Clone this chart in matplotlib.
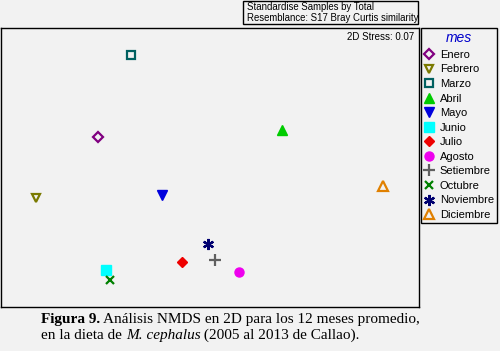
"""NMDS 2D ordination of monthly diet samples (Figura 9)."""
import matplotlib
matplotlib.use("Agg")
import matplotlib.pyplot as plt
from matplotlib.patches import Rectangle

plt.rcParams.update({
    "font.family": "sans-serif",
    "font.sans-serif": ["Liberation Sans", "DejaVu Sans"],
    "font.size": 7.5,
})

BG = "#f2f2f2"

meses = ["Enero", "Febrero", "Marzo", "Abril", "Mayo", "Junio", "Julio",
         "Agosto", "Setiembre", "Octubre", "Noviembre", "Diciembre"]
mds1 = [-1.12, -1.74, -0.79, 0.72, -0.48, -1.04, -0.28, 0.29, 0.05, -1.00, -0.02, 1.73]
mds2 = [0.33, -0.28, 1.15, 0.40, -0.25, -1.00, -0.92, -1.02, -0.90, -1.10, -0.74, -0.16]
marcadores = ["D", "v", "s", "^", "v", "s", "D", "o", "+", "x", (6, 2, 0), "^"]
colores = ["#800080", "#7a7a00", "#006060", "#00cc00", "#0000dd", "#00ffff",
           "#ee0000", "#ee00ee", "#606060", "#008000", "#000070", "#e08000"]
huecos = [True, True, True, False, False, False, False, False, False, False, False, True]
tamanos = [5, 6, 5.5, 6.5, 6.5, 6.5, 5.5, 6.5, 8, 6, 8, 6.5]

fig = plt.figure(figsize=(5.0, 3.51), dpi=100, facecolor=BG)

# main ordination panel
ax = fig.add_axes([1 / 500, 1 - 307 / 351, 418 / 500, 279 / 351])
ax.set_facecolor(BG)
handles = []
for x, y, m, c, h, s, lab in zip(mds1, mds2, marcadores, colores, huecos, tamanos, meses):
    lineal = h or not isinstance(m, str) or m in "+x"
    ln, = ax.plot(x, y, linestyle="none", marker=m, markersize=s,
                  color=c, markerfacecolor="none" if h else c,
                  markeredgewidth=1.6 if lineal else 1.0, label=lab)
    handles.append(ln)
ax.set_xlim(-2.09, 2.09)
ax.set_ylim(-1.37, 1.42)
ax.set_xticks([])
ax.set_yticks([])
for sp in ax.spines.values():
    sp.set_linewidth(1.0)
ax.text(0.988, 0.985, "2D Stress: 0.07", transform=ax.transAxes,
        ha="right", va="top", fontsize=7)

# header box
fig.patches.append(Rectangle((243 / 500, 1 - 24 / 351), 175 / 500, 23 / 351,
                             transform=fig.transFigure, facecolor=BG,
                             edgecolor="black", linewidth=1.0))
fig.text(247 / 500, 1 - 7 / 351, "Standardise Samples by Total", ha="left", va="center", fontsize=6.9)
fig.text(247 / 500, 1 - 18 / 351, "Resemblance: S17 Bray Curtis similarity", ha="left", va="center", fontsize=6.9)

# legend
leg = fig.legend(handles=handles, loc="upper left",
                 bbox_to_anchor=(421 / 500, 1 - 28 / 351), fontsize=8,
                 title="mes", frameon=True, fancybox=False, edgecolor="black",
                 facecolor=BG, framealpha=1, handlelength=0.8, handletextpad=0.6,
                 labelspacing=0.41, borderpad=0.3, borderaxespad=0)
leg.get_title().set_fontsize(10)
leg.get_title().set_color("#0000cc")
leg.get_title().set_style("italic")
leg.get_frame().set_linewidth(1.0)

# caption
serif = ["Liberation Serif", "DejaVu Serif"]
fig.canvas.draw()
r = fig.canvas.get_renderer()


def trozo(x_px, y_px, texto, **kw):
    t = fig.text(x_px / 500, 1 - y_px / 351, texto, ha="left", va="baseline",
                 fontsize=11, family=serif, **kw)
    return t.get_window_extent(r).x1


x = trozo(41, 323, "Figura 9.", fontweight="bold")
trozo(x, 323, " Análisis NMDS en 2D para los 12 meses promedio,")
x = trozo(41, 339, "en la dieta de ")
x = trozo(x, 339, "M. cephalus", style="italic")
trozo(x, 339, " (2005 al 2013 de Callao).")

fig.savefig("out.png", dpi=100, facecolor=BG)
plt.close(fig)
